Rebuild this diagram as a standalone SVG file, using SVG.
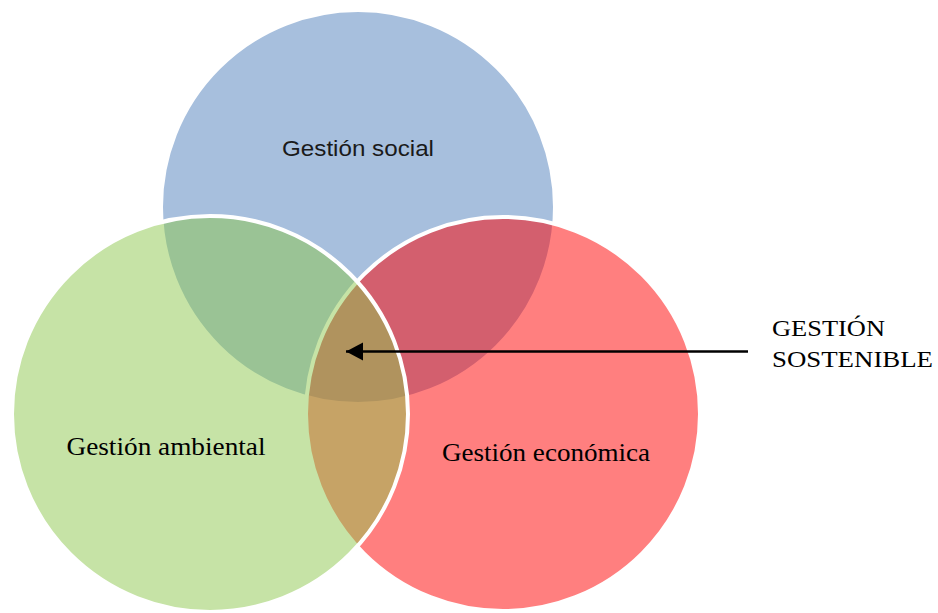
<svg xmlns="http://www.w3.org/2000/svg" width="938" height="613" viewBox="0 0 938 613">
<style>
.c{stroke:#FFFFFF;stroke-width:4}
.sans{font-family:"Liberation Sans","DejaVu Sans",sans-serif;fill:#1a1a1a}
.serif{font-family:"Liberation Serif","DejaVu Serif",serif;fill:#000000}
</style>
<defs>
<marker id="ah" markerUnits="userSpaceOnUse" markerWidth="20" markerHeight="20" refX="17" refY="9.5" orient="auto">
<path d="M0,0.5 L17,9.5 L0,18.5 Z" fill="#000000"/>
</marker>
</defs>
<rect width="938" height="613" fill="#FFFFFF"/>
<g id="social">
<circle class="c" cx="358" cy="207" r="197" fill="#A7BFDD"/>
<text class="sans" x="358" y="156" font-size="22" text-anchor="middle" textLength="152" lengthAdjust="spacingAndGlyphs">Gestión social</text>
</g>
<g id="economica">
<circle class="c" cx="503" cy="414" r="197" fill="#FF0000" fill-opacity="0.5"/>
<text class="serif" x="546" y="461" font-size="25" text-anchor="middle" textLength="208" lengthAdjust="spacingAndGlyphs">Gestión económica</text>
</g>
<g id="ambiental">
<circle class="c" cx="210" cy="414" r="198" fill="#8DC74D" fill-opacity="0.5"/>
<text class="serif" x="166" y="455" font-size="25" text-anchor="middle" textLength="199" lengthAdjust="spacingAndGlyphs">Gestión ambiental</text>
</g>
<g id="sostenible">
<text class="serif" x="772" y="336" font-size="24" textLength="113" lengthAdjust="spacingAndGlyphs">GESTIÓN</text>
<text class="serif" x="772" y="367" font-size="24" textLength="161" lengthAdjust="spacingAndGlyphs">SOSTENIBLE</text>
</g>
<g id="connectors">
<line x1="748" y1="351.5" x2="346" y2="351.5" stroke="#000000" stroke-width="2.7" marker-end="url(#ah)"/>
</g>
</svg>
